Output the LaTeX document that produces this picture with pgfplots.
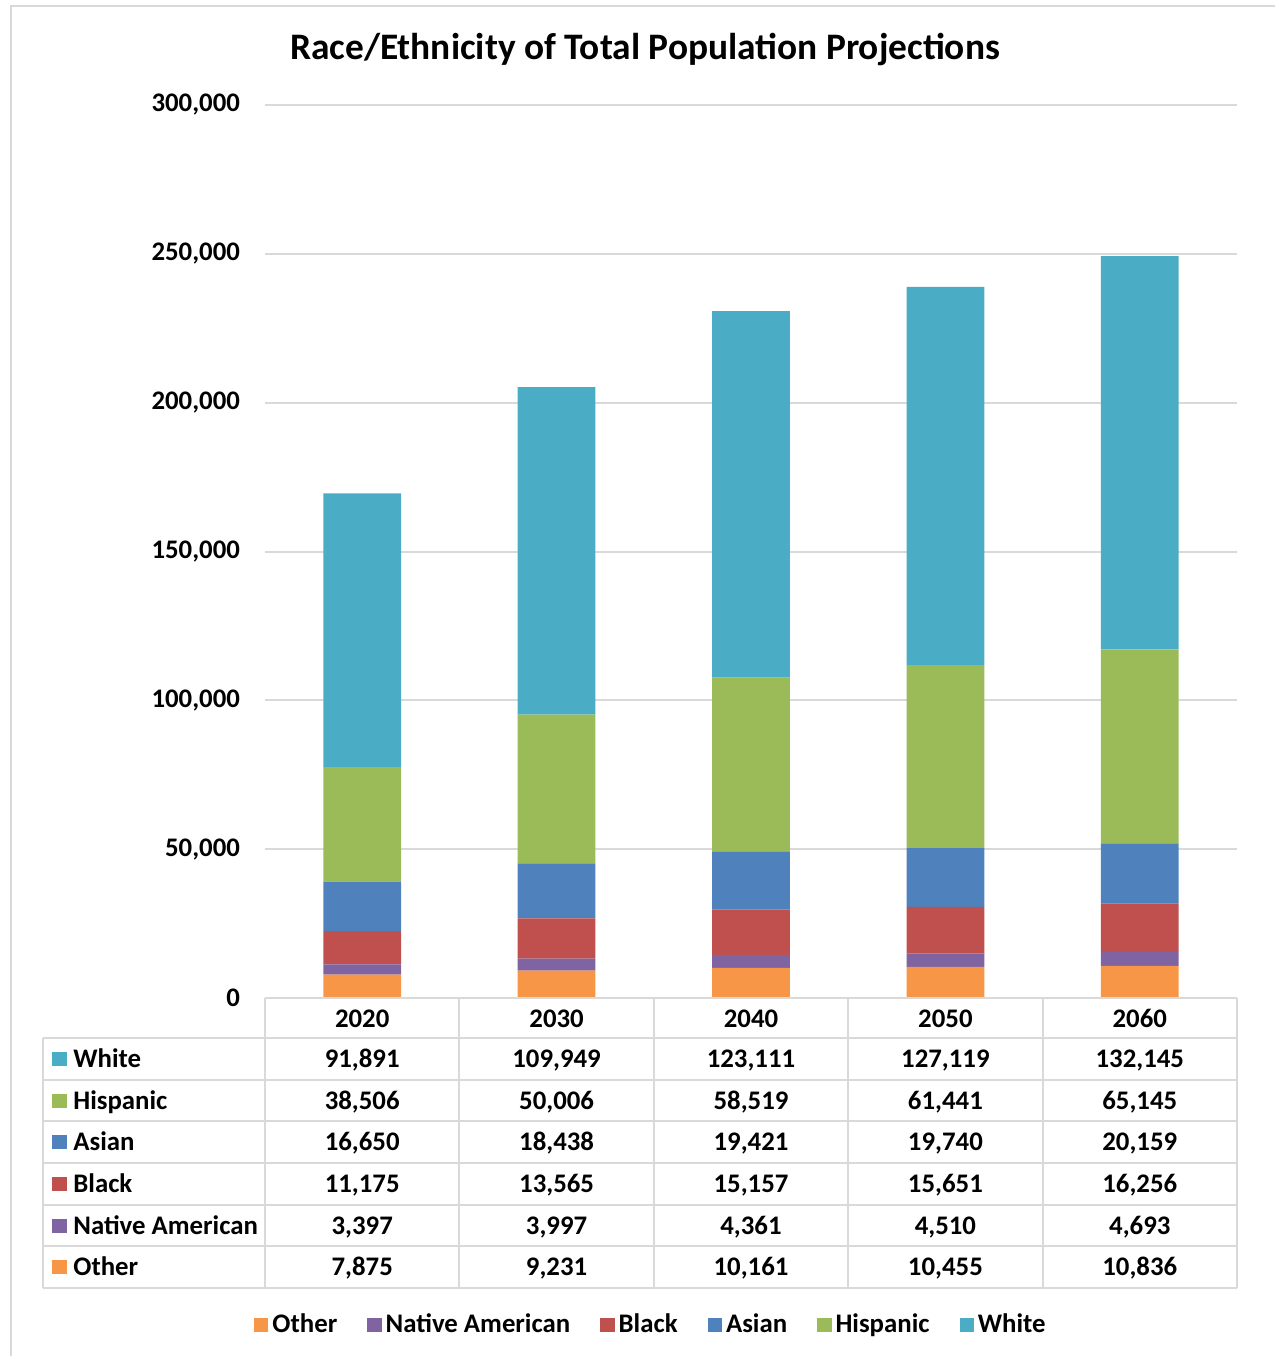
\documentclass[border=0pt]{standalone}
\usepackage{pgfplots}
\pgfplotsset{compat=1.18}
\usepackage{pgfplotstable}
\usepackage{fontspec}
\setmainfont{Carlito}

\definecolor{cWhite}{HTML}{4BACC6}
\definecolor{cHispanic}{HTML}{9BBB59}
\definecolor{cAsian}{HTML}{4F81BD}
\definecolor{cBlack}{HTML}{C0504D}
\definecolor{cNative}{HTML}{8064A2}
\definecolor{cOther}{HTML}{F79646}
\definecolor{linegray}{HTML}{D9D9D9}

\pgfplotstableread{
Year Other Native Black Asian Hispanic White
2020 7875 3397 11175 16650 38506 91891
2030 9231 3997 13565 18438 50006 109949
2040 10161 4361 15157 19421 58519 123111
2050 10455 4510 15651 19740 61441 127119
2060 10836 4693 16256 20159 65145 132145
}\datatable

\newcommand\lblfont{\bfseries\fontsize{13.4}{15.5}\selectfont}

\begin{document}
\begin{tikzpicture}[font=\lblfont]
% reference pixel grid: 1px = 0.5pt, plot area lower-left at px (265,998)
\begin{scope}[shift={(-132.5pt,499pt)}, x=0.5pt, y=-0.5pt]
  \path[use as bounding box] (0,0) rectangle (1275,1356);
  \draw[linegray, line width=1.2pt] (11,1356) -- (11,6) -- (1275,6);
  \node[font=\bfseries\fontsize{18.7}{22}\selectfont] at (645,50) {Race/Ethnicity of Total Population Projections};
\end{scope}

\begin{axis}[
    at={(0,0)}, anchor=south west,
    scale only axis,
    width=486pt, height=446.5pt,
    ybar stacked,
    bar width=0.4,
    xmin=-0.5, xmax=4.5,
    ymin=0, ymax=300000,
    xtick=\empty,
    ytick={0,50000,...,300000},
    scaled y ticks=false,
    major tick length=0,
    axis line style={draw=none},
    ymajorgrids=true,
    grid style={linegray, line width=1pt},
    yticklabel style={
        /pgf/number format/fixed,
        /pgf/number format/1000 sep={,},
        /pgf/number format/assume math mode=true,
        anchor=east, xshift=-9pt,
        font=\lblfont},
    legend columns=6,
    legend style={draw=none, at={(0.398,-0.366)}, anchor=center,
        font=\lblfont,
        /tikz/every even column/.append style={column sep=13pt}},
    legend image code/.code={\fill[#1] (0pt,-3.6pt) rectangle (7.2pt,3.6pt);},
]
\addplot[fill=cOther, draw=none] table[x expr=\coordindex, y=Other] {\datatable};
\addplot[fill=cNative, draw=none] table[x expr=\coordindex, y=Native] {\datatable};
\addplot[fill=cBlack, draw=none] table[x expr=\coordindex, y=Black] {\datatable};
\addplot[fill=cAsian, draw=none] table[x expr=\coordindex, y=Asian] {\datatable};
\addplot[fill=cHispanic, draw=none] table[x expr=\coordindex, y=Hispanic] {\datatable};
\addplot[fill=cWhite, draw=none] table[x expr=\coordindex, y=White] {\datatable};
\legend{Other, Native American, Black, Asian, Hispanic, White}
\end{axis}

% data table below the plot
\begin{scope}[shift={(-132.5pt,499pt)}, x=0.5pt, y=-0.5pt]
  \draw[linegray, line width=1pt] (265,998) -- (1237,998);
  \foreach \k in {0,...,6}
    \draw[linegray, line width=1pt] (43,{1038+41.667*\k}) -- (1237,{1038+41.667*\k});
  \draw[linegray, line width=1pt] (43,1038) -- (43,1288);
  \foreach \k in {0,...,5}
    \draw[linegray, line width=1pt] ({265+194.4*\k},998) -- ({265+194.4*\k},1288);
  % header
  \foreach \i in {0,...,4} {
    \pgfplotstablegetelem{\i}{Year}\of\datatable
    \pgfmathsetmacro\xc{362.2+194.4*\i}
    \node[anchor=base, inner sep=0pt] at (\xc,1027.5) {\pgfplotsretval};
  }
  % rows
  \foreach \c/\lab [count=\j from 0] in {White/White, Hispanic/Hispanic, Asian/Asian, Black/Black, Native/Native American, Other/Other} {
    \pgfmathsetmacro\yc{1059+41.667*\j}
    \fill[c\c] (52,\yc-7) rectangle (67,\yc+7);
    \node[anchor=base west, inner sep=0pt] at (73,\yc+8.5) {\lab};
    \foreach \i in {0,...,4} {
      \pgfplotstablegetelem{\i}{\c}\of\datatable
      \pgfmathsetmacro\xc{362.2+194.4*\i}
      \node[anchor=base, inner sep=0pt] at (\xc,\yc+8.5)
        {\pgfmathprintnumber[fixed,precision=0,1000 sep={,},assume math mode=true]{\pgfplotsretval}};
    }
  }
\end{scope}
\end{tikzpicture}
\end{document}
